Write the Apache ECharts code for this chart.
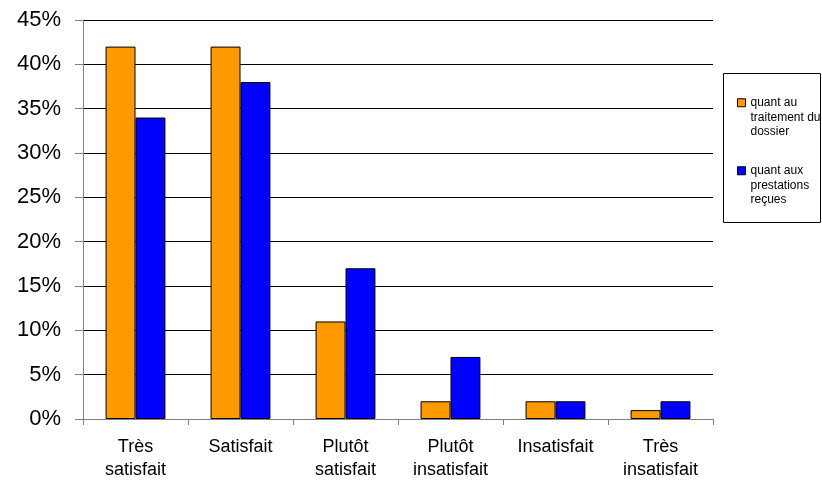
<!DOCTYPE html>
<html>
<head>
<meta charset="utf-8">
<script src="https://cdn.jsdelivr.net/npm/echarts@6/dist/echarts.min.js"></script>
<style>
html,body{margin:0;padding:0;background:#fff;}
#chart{width:822px;height:482px;}
</style>
</head>
<body>
<div id="chart"></div>
<script>
const categories = ['Très\nsatisfait', 'Satisfait', 'Plutôt\nsatisfait', 'Plutôt\ninsatisfait', 'Insatisfait', 'Très\ninsatisfait'];
const seriesNames = ['quant au\ntraitement du\ndossier', 'quant aux\nprestations\nreçues'];
const traitement = [42, 42, 11, 2, 2, 1];
const prestations = [34, 38, 17, 7, 2, 2];
const yMin = 0, yMax = 45, yInterval = 5;

const FONT = 'Liberation Sans, Arial, sans-serif';
const chart = echarts.init(document.getElementById('chart'), null, {renderer: 'canvas'});
chart.setOption({
  animation: false,
  backgroundColor: '#ffffff',
  grid: {left: 83, right: 109, top: 20, bottom: 62, containLabel: false},
  legend: {
    orient: 'vertical',
    left: 737,
    top: 66.5,
    padding: 0,
    itemGap: -4.5,
    itemWidth: 8,
    itemHeight: 8,
    icon: 'rect',
    itemStyle: {borderColor: '#000', borderWidth: 1},
    formatter: function (name) { return ' \n \n' + name; },
    textStyle: {fontFamily: FONT, fontSize: 12, color: '#000', lineHeight: 14.5},
    data: seriesNames
  },
  graphic: [{
    type: 'rect',
    shape: {x: 723.5, y: 73.5, width: 97, height: 149},
    style: {fill: 'none', stroke: '#000', lineWidth: 1},
    z: 10
  }],
  xAxis: {
    type: 'category',
    data: categories,
    axisLine: {lineStyle: {color: '#808080', width: 1}},
    axisTick: {show: true, length: 6, lineStyle: {color: '#808080'}},
    axisLabel: {fontFamily: FONT, fontSize: 18, color: '#000', lineHeight: 23, margin: 17, interval: 0}
  },
  yAxis: {
    type: 'value',
    min: yMin, max: yMax, interval: yInterval,
    axisLine: {show: true, lineStyle: {color: '#808080', width: 1}},
    axisTick: {show: true, length: 8, lineStyle: {color: '#808080'}},
    axisLabel: {fontFamily: FONT, fontSize: 22, color: '#000', margin: 22, formatter: '{value}%'},
    splitLine: {show: true, lineStyle: {color: '#000', width: 1}}
  },
  series: [
    {name: seriesNames[0], type: 'bar', data: traitement, barGap: '0%', barCategoryGap: '43%',
     itemStyle: {color: '#FF9900', borderColor: '#000', borderWidth: 1}},
    {name: seriesNames[1], type: 'bar', data: prestations, barGap: '0%', barCategoryGap: '43%',
     itemStyle: {color: '#0000FF', borderColor: '#000', borderWidth: 1}}
  ]
});
</script>
</body>
</html>
